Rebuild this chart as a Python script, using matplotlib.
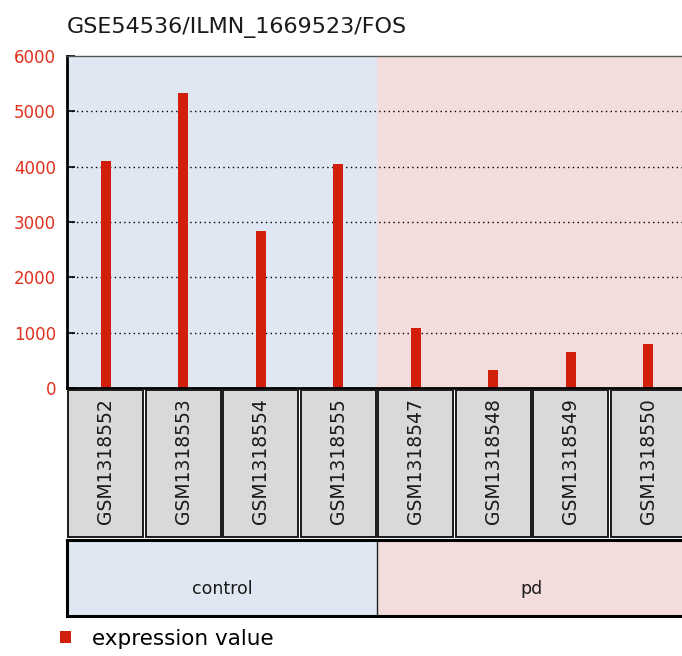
import numpy as np
import matplotlib
matplotlib.use("Agg")
import matplotlib.pyplot as plt
from matplotlib.patches import Rectangle

# data
title = "GSE54536/ILMN_1669523/FOS"
samples = ["GSM1318552", "GSM1318553", "GSM1318554", "GSM1318555",
           "GSM1318547", "GSM1318548", "GSM1318549", "GSM1318550"]
values = [4100, 5330, 2830, 4055, 1080, 330, 655, 800]
groups = ["control", "pd"]
group_sizes = [4, 4]
yticks = [0, 1000, 2000, 3000, 4000, 5000, 6000]

# colours
bar_red = "#d21f0c"
tick_red = "#e0301e"
bg_blue = "#dfe8f2"
bg_pink = "#f3dddc"
box_gray = "#d9d9d9"
group_bg = [bg_blue, bg_pink]

W, H = 682, 656
fig = plt.figure(figsize=(W / 100, H / 100), dpi=100)


def px_axes(l, t, r, b):
    return fig.add_axes([l / W, 1 - b / H, (r - l) / W, (b - t) / H])


n = len(samples)
x = np.arange(n) + 0.5

# main bar panel
ax = px_axes(67, 56, 687, 388)
ax.set_xlim(0, n)
ax.set_ylim(0, 6000)
start = 0
for g, size in enumerate(group_sizes):
    ax.axvspan(start, start + size, color=group_bg[g], zorder=0, lw=0)
    start += size
for y in yticks[1:-1]:
    ax.axhline(y, color="black", lw=1.0, linestyle=(0, (1, 2.4)), zorder=1)
ax.bar(x, values, width=0.13, color=bar_red, zorder=2, label="expression value")
ax.set_yticks(yticks)
ax.set_yticklabels([str(v) for v in yticks], color=tick_red, fontsize=12)
ax.set_xticks(x)
ax.set_xticklabels([])
ax.tick_params(axis="y", direction="in", length=6, width=1.2, pad=8)
ax.tick_params(axis="x", direction="in", length=4, width=1.5)
ax.spines["left"].set_linewidth(2)
ax.spines["bottom"].set_linewidth(2)
ax.spines["top"].set_linewidth(1)
ax.spines["top"].set_color("#555555")
ax.spines["right"].set_visible(False)
fig.text(67 / W, 1 - 27 / H, title, fontsize=16, va="center", ha="left",
         color="#1a1a1a")

# sample label boxes
axs = px_axes(67, 388, 687, 538)
axs.set_xlim(0, n)
axs.set_ylim(0, 1)
axs.axis("off")
for i, name in enumerate(samples):
    axs.add_patch(Rectangle((i + 0.015, 0.01), 0.97, 0.975, facecolor=box_gray,
                            edgecolor="#1a1a1a", lw=1.4))
    axs.text(i + 0.5, 0.935, name, rotation=90, ha="center", va="top",
             fontsize=13.5, color="#1a1a1a")

# group boxes
axg = px_axes(67, 540, 687, 616)
axg.set_xlim(0, n)
axg.set_ylim(0, 1)
start = 0
for g, size in enumerate(group_sizes):
    axg.add_patch(Rectangle((start, 0), size, 1, facecolor=group_bg[g],
                            edgecolor="none"))
    axg.text(start + size / 2, 0.35, groups[g], ha="center", va="center",
             fontsize=12.5, color="#1a1a1a")
    if start > 0:
        axg.axvline(start, color="#222222", lw=1)
    start += size
axg.set_xticks([])
axg.set_yticks([])
for s in axg.spines.values():
    s.set_linewidth(2.2)
axg.spines["right"].set_visible(False)

# legend
fig.legend(handles=ax.containers[0].patches[:1], labels=["expression value"],
           loc="center left", bbox_to_anchor=(60 / W, 1 - 639 / H),
           frameon=False, fontsize=15.5, handlelength=0.5, handleheight=0.5,
           handletextpad=1.0, borderaxespad=0, borderpad=0)

fig.savefig("out.png", dpi=100)
